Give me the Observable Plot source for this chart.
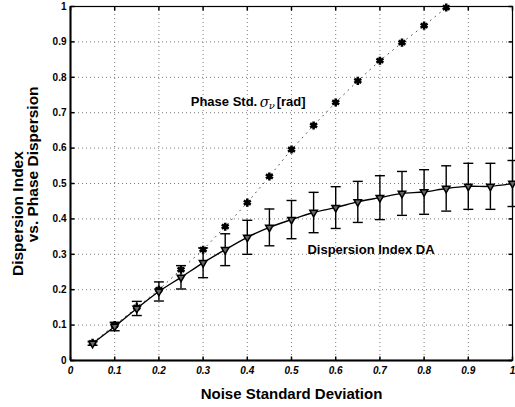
<!DOCTYPE html>
<html>
<head>
<meta charset="utf-8">
<script src="https://cdn.jsdelivr.net/npm/d3@7"></script>
<script src="https://cdn.jsdelivr.net/npm/@observablehq/plot@0.6"></script>
<style>
  html, body { margin: 0; padding: 0; background: #fff; }
  #chart svg { display: block; }
</style>
</head>
<body>
<div id="chart"></div>
<script>
// ---- data ----
const daX   = [0.05, 0.10, 0.15, 0.20, 0.25, 0.30, 0.35, 0.40, 0.45, 0.50, 0.55, 0.60, 0.65, 0.70, 0.75, 0.80, 0.85, 0.90, 0.95, 1.00];
const daY   = [0.048, 0.096, 0.147, 0.195, 0.235, 0.276, 0.313, 0.348, 0.376, 0.398, 0.418, 0.432, 0.448, 0.460, 0.472, 0.476, 0.486, 0.492, 0.492, 0.500];
const daErr = [0.005, 0.012, 0.020, 0.027, 0.033, 0.042, 0.045, 0.048, 0.052, 0.054, 0.057, 0.059, 0.058, 0.062, 0.062, 0.063, 0.064, 0.065, 0.065, 0.065];

const phaseX = [0.05, 0.10, 0.15, 0.20, 0.25, 0.30, 0.35, 0.40, 0.45, 0.50, 0.55, 0.60, 0.65, 0.70, 0.75, 0.80, 0.85];
const phaseY = [0.050, 0.100, 0.150, 0.200, 0.257, 0.313, 0.378, 0.446, 0.520, 0.596, 0.664, 0.729, 0.790, 0.847, 0.898, 0.946, 0.997];

const xTicks = [0, 0.1, 0.2, 0.3, 0.4, 0.5, 0.6, 0.7, 0.8, 0.9, 1];
const yTicks = [0, 0.1, 0.2, 0.3, 0.4, 0.5, 0.6, 0.7, 0.8, 0.9, 1];

const xTitle = "Noise Standard Deviation";
const yTitle1 = "Dispersion Index";
const yTitle2 = "vs. Phase Dispersion";
const phaseLabel = ["Phase Std.", "σ", "ν", "[rad]"];
const daLabel = "Dispersion Index DA";

// ---- tables built from the arrays ----
const da = daX.map((x, i) => ({x, y: daY[i], lo: daY[i] - daErr[i], hi: daY[i] + daErr[i]}));
const phase = phaseX.map((x, i) => ({x, y: phaseY[i]}));

// custom symbols
const capSym = {draw(ctx, size) { const w = Math.sqrt(size / Math.PI); ctx.moveTo(-w, 0); ctx.lineTo(w, 0); }};
const tickUp = {draw(ctx) { ctx.moveTo(0, 0); ctx.lineTo(0, -4); }};
const tickDown = {draw(ctx) { ctx.moveTo(0, 0); ctx.lineTo(0, 4); }};
const tickRight = {draw(ctx) { ctx.moveTo(0, 0); ctx.lineTo(4, 0); }};
const tickLeft = {draw(ctx) { ctx.moveTo(0, 0); ctx.lineTo(-4, 0); }};

const font = "'Liberation Sans', Arial, Helvetica, sans-serif";

const chart = Plot.plot({
  width: 515,
  height: 407,
  marginLeft: 70,
  marginRight: 3,
  marginTop: 6,
  marginBottom: 47,
  style: {fontFamily: font, fontSize: "10px", fontWeight: "bold", color: "#000", background: "#fff"},
  x: {domain: [0, 1]},
  y: {domain: [0, 1]},
  marks: [
    Plot.gridX(xTicks, {stroke: "#444", strokeOpacity: 0.7, strokeDasharray: "1,3"}),
    Plot.gridY(yTicks, {stroke: "#444", strokeOpacity: 0.7, strokeDasharray: "1,3"}),
    Plot.frame({stroke: "#000", strokeWidth: 1.2}),
    Plot.ruleX([0], {stroke: "#000", strokeWidth: 2}),
    Plot.ruleY([0], {stroke: "#000", strokeWidth: 2}),
    // inward ticks
    Plot.dot(xTicks, {x: d => d, y: () => 0, symbol: tickUp, stroke: "#000", r: 4}),
    Plot.dot(xTicks, {x: d => d, y: () => 1, symbol: tickDown, stroke: "#000", r: 4}),
    Plot.dot(yTicks, {x: () => 0, y: d => d, symbol: tickRight, stroke: "#000", r: 4}),
    Plot.dot(yTicks, {x: () => 1, y: d => d, symbol: tickLeft, stroke: "#000", r: 4}),
    Plot.axisX(xTicks, {tickSize: 0, tickPadding: 6, fontStyle: "italic", fontWeight: "bold", fontSize: 10, tickFormat: d => String(d), label: null}),
    Plot.axisY(yTicks, {tickSize: 0, tickPadding: 4, fontWeight: "bold", fontSize: 10, tickFormat: d => String(d), label: null}),
    // phase std series
    Plot.line(phase, {x: "x", y: "y", stroke: "#555", strokeWidth: 1, strokeDasharray: "1,5"}),
    Plot.dot(phase, {x: "x", y: "y", symbol: "asterisk", stroke: "#000", strokeWidth: 2.6, r: 3.8}),
    // dispersion index series
    Plot.ruleX(da, {x: "x", y1: "lo", y2: "hi", stroke: "#000", strokeWidth: 1.4}),
    Plot.dot(da, {x: "x", y: "lo", symbol: capSym, stroke: "#000", strokeWidth: 1.4, r: 5}),
    Plot.dot(da, {x: "x", y: "hi", symbol: capSym, stroke: "#000", strokeWidth: 1.4, r: 5}),
    Plot.line(da, {x: "x", y: "y", stroke: "#000", strokeWidth: 1.4, curve: "catmull-rom"}),
    Plot.dot(da, {x: "x", y: "y", symbol: "triangle", rotate: 180, fill: "#666", stroke: "#000", strokeWidth: 1.5, r: 2.8}),
    // annotations
    Plot.text([phaseLabel[0]], {x: 0.272, y: 0.73, textAnchor: "start", fontSize: 13, fontWeight: "bold"}),
    Plot.text([phaseLabel[1]], {x: 0.272, y: 0.73, dx: 69, textAnchor: "start", fontSize: 14, fontStyle: "italic", fontWeight: "normal", fontFamily: "'DejaVu Serif', serif"}),
    Plot.text([phaseLabel[2]], {x: 0.272, y: 0.73, dx: 78, dy: 4, textAnchor: "start", fontSize: 10, fontStyle: "italic", fontWeight: "normal", fontFamily: "'DejaVu Serif', serif"}),
    Plot.text([phaseLabel[3]], {x: 0.272, y: 0.73, dx: 86, textAnchor: "start", fontSize: 13, fontWeight: "bold"}),
    Plot.text([daLabel], {x: 0.536, y: 0.313, textAnchor: "start", fontSize: 13, fontWeight: "bold"}),
    // axis titles
    Plot.text([xTitle], {frameAnchor: "bottom", dy: 38, fontSize: 15, fontWeight: "bold"}),
    Plot.text([yTitle1], {x: -0.118, y: 0.415, rotate: -90, fontSize: 15.5, fontWeight: "bold"}),
    Plot.text([yTitle2], {x: -0.084, y: 0.554, rotate: -90, fontSize: 15.5, fontWeight: "bold"})
  ]
});
document.getElementById("chart").appendChild(chart);
</script>
</body>
</html>
